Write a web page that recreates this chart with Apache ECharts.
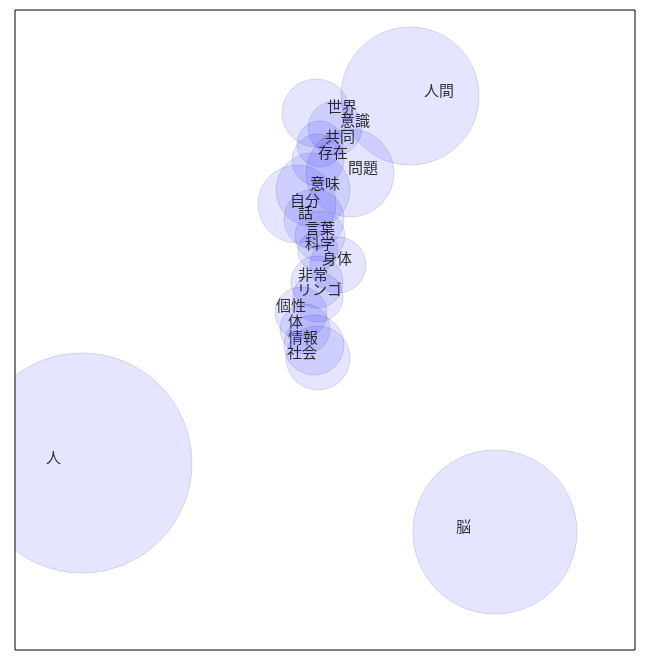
<!DOCTYPE html>
<html>
<head>
<meta charset="utf-8">
<script src="https://cdn.jsdelivr.net/npm/echarts@6/dist/echarts.min.js"></script>
<style>html,body{margin:0;padding:0;background:#fff;}#c{width:660px;height:660px;}</style>
</head>
<body>
<div id="c"></div>
<script>
const words   = ['世界','意識','共同','存在','問題','意味','自分','話','言葉','科学','身体','非常','リンゴ','個性','体','情報','社会','人間','人','脳'];
const labelX  = [312,325,310,303,333,295,275,283,290,290,307,283,282,261,273,273,272,409,31,441];
const labelY  = [536,522,506,490,475,459,442,430,414,399,384,368,353,337,321,305,290,552,185,116];
const bubbleX = [301,320,305,303,335,298,282,299,305,303,323,302,303,286,290,299,303,395,67,480];
const bubbleY = [537,522,506,490,477,460,446,431,414,399,385,368,353,337,321,305,292,554,187,118];
const bubbleR = [34,27,23,26,44,37,39,30,25,20,28,26,25,26,25,30,32,69,110,82];

const chart = echarts.init(document.getElementById('c'));
const bubbles = words.map((w,i)=>[bubbleX[i], bubbleY[i], bubbleR[i]]);
const labels = words.map((w,i)=>({name:w, value:[labelX[i], labelY[i]]}));
chart.setOption({
  animation:false,
  grid:{left:15, top:10, width:620, height:640, show:true, borderColor:'#000', borderWidth:1, backgroundColor:'transparent'},
  xAxis:{type:'value', min:0, max:620, show:false},
  yAxis:{type:'value', min:0, max:640, show:false},
  series:[
    {type:'custom', data:bubbles, clip:true, silent:true, z:2,
     renderItem:(params, api)=>{
       const c = api.coord([api.value(0), api.value(1)]);
       const r = api.size([api.value(2), 0])[0];
       return {type:'circle', shape:{cx:c[0], cy:c[1], r:r},
               style:{fill:'rgba(0,0,255,0.1)', stroke:'rgba(0,0,50,0.13)', lineWidth:1}};
     },
     encode:{x:0, y:1}},
    {type:'scatter', data:labels, symbolSize:0, clip:false,
     label:{show:true, position:[0,0], align:'left', verticalAlign:'bottom',
            formatter:(p)=>p.name, color:'#000', fontSize:15, lineHeight:15,
            fontFamily:'"Noto Sans CJK JP", sans-serif'},
     emphasis:{disabled:true}, silent:true, z:3}
  ]
});
</script>
</body>
</html>
